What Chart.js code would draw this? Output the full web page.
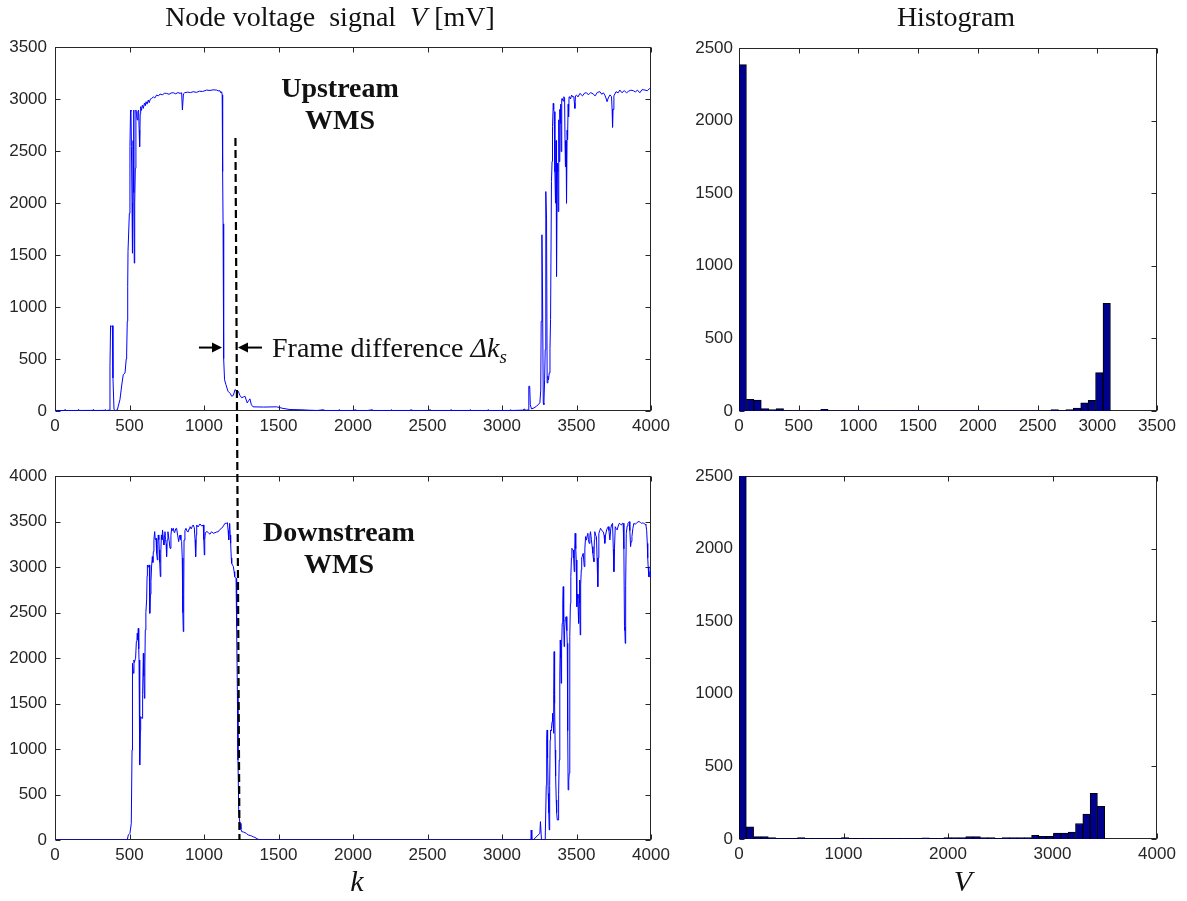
<!DOCTYPE html>
<html>
<head>
<meta charset="utf-8">
<script src="https://cdn.jsdelivr.net/npm/chart.js@4.4.1/dist/chart.umd.min.js"></script>
<style>
  body { margin: 0; background: #fff; overflow: hidden; }
  #page { position: relative; width: 1187px; height: 901px; }
  canvas { position: absolute; }
  .txt { position: absolute; font-family: 'Liberation Serif', 'Times New Roman', serif; font-size: 28px; color: #111; white-space: pre; }
  .bold { font-weight: bold; text-align: center; line-height: 32px; }
  sub { font-size: 19px; vertical-align: -6px; line-height: 0; }
</style>
</head>
<body>
<div id="page">
  <canvas id="upLine" width="670" height="420" style="left:0;top:30px"></canvas>
  <canvas id="downLine" width="670" height="446" style="left:0;top:455px"></canvas>
  <canvas id="upHist" width="507" height="420" style="left:680px;top:30px"></canvas>
  <canvas id="downHist" width="507" height="446" style="left:680px;top:455px"></canvas>
  <canvas id="overlay" width="1187" height="901" style="left:0;top:0"></canvas>

  <div class="txt" style="left:130px;top:3px;width:400px;text-align:center;line-height:28px">Node voltage  signal  <i>V</i> [mV]</div>
  <div class="txt" style="left:756px;top:3px;width:400px;text-align:center;line-height:28px">Histogram</div>
  <div class="txt bold" style="left:240px;top:72px;width:200px">Upstream<br>WMS</div>
  <div class="txt bold" style="left:239px;top:516px;width:200px">Downstream<br>WMS</div>
  <div class="txt" style="left:272px;top:334px;line-height:28px">Frame difference <i>Δk<sub>s</sub></i></div>
  <div class="txt" style="left:307px;top:866px;width:100px;text-align:center;font-size:30px;line-height:30px"><i>k</i></div>
  <div class="txt" style="left:913px;top:866px;width:100px;text-align:center;font-size:30px;line-height:30px"><i>V</i></div>
</div>
<script>
// upstream WMS node voltage signal (frame k, mV)
const upK = [0,60,70,75,150,160,165,250,260,265,330,340,345,365,
  369,373,380,385,389,396,405,418,436,448,458,470,478,481,485,488,490,496,499,503,507,510,513,517,519,521,524,528,530,532,535,539,543,547,552,556,561,565,568,572,575,580,586,593,600,606,611,618,626,632,640,649,660,670,682,695,705,720,735,749,765,780,794,810,825,839,850,855,859,862,870,890,910,928,950,970,990,1018,1040,1060,1085,1095,1107,1112,1118,1122,
  1125,1128,1130,1134,1138,1147,1161,1175,1186,1197,1208,1218,1230,1241,1253,1264,1275,1290,1300,1308,1318,1329,1400,1488,1530,1577,1650,1700,1760,1800,1805,1900,1910,1915,2000,2020,2025,2100,2130,2135,2250,2260,2265,2380,2390,2395,2500,2520,2525,2650,2660,2665,2780,2790,2795,2900,2910,2915,3050,3060,3065,3140,3150,3155,3176,
  3180,3186,3190,3198,3215,3232,3254,3260,3263,3268,3272,3277,3281,3286,3290,3294,3299,3303,3308,3312,3317,3322,3326,3332,3336,3339,3344,3347,3350,3355,3359,3363,3366,3371,3374,3377,3381,3384,3388,3391,3394,3397,3401,3404,3410,3415,3420,3423,3426,3430,3433,3437,3440,3444,3447,3450,3453,3460,3467,3475,3482,3486,3489,3493,3500,3510,
  3523,3540,3555,3567,3580,3595,3612,3625,3640,3657,3670,3680,3690,3700,3705,3713,3725,3735,3739,3742,3745,3751,3765,3780,3791,3805,3820,3836,3850,3865,3881,3895,3910,3925,3940,3959,3975,3992,4000];
const upV = [5,5,14,5,5,14,5,6,14,5,6,12,5,8,
  430,820,814,820,318,14,5,10,110,250,350,366,500,558,862,1200,1534,1534,1900,2542,2894,2880,2542,2000,1518,1518,2600,2894,2100,1422,2000,2334,2894,2850,2798,2880,2894,2700,2542,2860,2926,2890,2940,2910,2960,2935,2974,2950,2990,2965,3000,3006,3020,3010,3038,3030,3048,3040,3055,3054,3045,3058,3060,3050,3062,3054,3060,2894,2894,3050,3060,3066,3062,3070,3064,3075,3072,3086,3082,3088,3086,3078,3080,3060,3070,3040,
  2302,1800,1518,504,300,254,190,170,142,150,206,195,190,150,127,135,142,78,100,117,60,40,38,40,25,14,12,8,5,12,5,5,12,5,5,12,5,5,12,5,5,12,5,5,12,5,5,12,5,5,12,5,5,12,5,5,12,5,5,12,5,8,20,8,10,
  238,238,60,20,30,46,78,200,862,1694,1134,78,62,300,590,2110,1838,270,334,300,366,600,878,2206,2400,2734,2958,2900,2878,2300,1998,2600,1294,2382,2300,1918,2800,2398,2900,2766,2950,2494,3000,3006,2980,3022,3010,2600,2350,2600,1998,2700,2606,2950,2830,3020,3022,3000,3038,3020,3022,2960,2910,3030,3038,3020,
  3054,3030,3058,3060,3040,3062,3048,3030,3064,3070,3045,3060,3038,3000,2974,3010,3040,3022,2900,2728,2900,3030,3070,3060,3086,3060,3080,3060,3075,3085,3080,3068,3085,3060,3090,3086,3080,3102,3090];

// downstream WMS node voltage signal (frame k, mV)
const downK = [0,485,492,503,512,517,519,521,526,530,532,541,546,550,552,556,559,562,564,567,570,573,575,580,584,588,593,596,600,603,606,610,615,618,620,626,630,633,635,637,640,644,648,653,657,660,664,669,673,678,682,687,690,693,697,700,703,707,710,714,718,722,727,731,735,738,742,746,749,753,758,765,772,778,783,790,794,800,805,810,816,823,830,835,839,845,850,854,857,859,861,864,866,872,879,887,895,900,906,915,922,928,935,940,944,948,951,960,973,985,995,999,1002,1005,1009,1020,1029,1040,1051,1062,1074,1085,1096,1105,1118,1130,1141,1150,1157,1162,1166,1169,1172,1176,1179,1183,1186,1192,1197,1202,1206,1211,1215,
  1219,1224,1228,1233,1238,1242,1248,1253,1264,1275,1286,1297,1310,1320,1330,1342,1355,1365,1387,3187,3194,3196,3199,3201,3209,3254,3258,3261,3265,3290,3294,3297,3299,3301,3303,3306,3310,3314,3317,3320,3323,3326,3330,3332,3336,3339,3343,3346,3348,3350,3353,3357,3360,3364,3367,3371,3377,3380,3384,3388,3391,3394,3397,3400,3404,3408,3411,3414,3417,3420,3424,3428,3431,3435,3438,3441,3444,3448,3451,3454,3456,3459,3462,3466,3469,3474,3478,3481,3485,3488,3491,3495,3498,3501,3503,3506,3509,3512,3514,3517,3520,3523,3525,3528,3532,3535,3538,3545,3552,3556,3561,3564,3567,3572,3576,3580,3585,3590,3594,3600,3605,3610,3613,3617,3620,3623,3628,3634,3638,3643,3646,3650,3656,3661,3670,3679,3685,3690,3695,3702,3708,3713,3718,3724,3730,3735,3742,3747,3751,3755,3760,3767,3773,3780,3787,3795,3802,3808,3813,3818,3822,3825,3827,3830,3834,3840,3845,3850,3854,3858,3863,3867,3872,3878,3885,3893,3903,3912,3921,3929,3937,3945,3952,3960,3966,3971,3975,3978,3981,3985,3988,3992,3995,4000];
const downV = [0,0,55,73,183,989,1942,1942,1832,1978,1950,1997,2180,2200,2271,2200,2326,2100,1978,1400,824,1200,1356,1340,1337,1600,2051,1800,1557,1900,2308,2500,2638,2900,3022,3000,3022,3022,2700,2491,2700,2839,3000,3114,3050,3169,3300,3389,3300,3315,3150,3077,3250,3352,3300,3187,3050,2894,3150,3352,3300,3407,3300,3242,3350,3388,3300,3250,3114,3300,3388,3300,3205,3350,3425,3400,3425,3380,3388,3420,3425,3350,3279,3330,3352,3300,3279,3100,2821,2500,2290,2700,3297,3400,3425,3390,3388,3420,3443,3420,3450,3462,3430,3300,3114,3350,3462,3440,3473,3450,3462,3300,3132,3300,3377,3390,3377,3360,3388,3370,3377,3385,3388,3410,3425,3450,3480,3480,3487,3400,3297,3420,3480,3350,3260,3100,3040,3020,3004,2950,2894,2880,2876,
  2344,1612,879,330,220,183,120,92,88,81,70,55,50,44,35,29,15,7,0,0,0,110,110,0,0,73,202,202,0,0,0,600,989,1100,1209,900,513,300,110,600,1100,1209,1200,1227,1300,1392,1280,1172,1600,2070,1500,989,700,440,300,220,220,500,879,1800,2198,2000,1722,2100,2381,2600,2784,2400,2125,2300,2418,2450,2454,2300,2161,1200,550,650,733,1500,2235,2600,2894,3100,3205,3190,3187,3100,2949,3200,3370,3200,3077,2800,2564,2700,2656,2500,2381,2700,2857,2600,2253,2800,2967,3100,3114,3150,3004,3200,3334,3300,3297,3350,3370,3300,3260,3350,3388,3300,3224,3150,3100,3059,3300,3388,3350,3334,3100,2784,3100,3370,3400,3425,3400,3388,3350,3260,3350,3407,3430,3443,3400,3297,3420,3462,3480,3200,2949,3200,3443,3420,3407,3450,3480,3470,3462,3480,3480,3200,2344,2300,2161,2800,3370,3450,3480,3490,3498,3400,3224,3280,3334,3420,3480,3470,3480,3498,3498,3490,3480,3485,3480,3470,3462,3400,3260,3100,3004,2894,2894,2949,2949,2880];

// histogram counts, 50 equal bins each
const upBinWidth = 62.2;
const upCounts = [2385,80,75,16,9,16,3,2,2,3,2,12,2,2,2,2,2,2,2,2,2,2,2,2,2,2,2,2,2,2,2,2,2,2,2,2,2,2,2,2,2,2,10,3,10,20,57,73,264,741];
const downBinWidth = 70;
const downCounts = [2510,83,16,16,10,4,4,4,10,4,4,4,4,4,10,4,4,4,4,4,4,4,4,4,4,8,4,4,10,10,10,16,16,10,10,4,10,10,10,10,25,18,18,40,40,48,107,172,314,225];

// tick labels
const kTicks = [0,500,1000,1500,2000,2500,3000,3500,4000];
const upVTicks = [0,500,1000,1500,2000,2500,3000,3500];
const downVTicks = [0,500,1000,1500,2000,2500,3000,3500,4000];
const upHistX = [0,500,1000,1500,2000,2500,3000,3500];
const downHistX = [0,1000,2000,3000,4000];
const countTicks = [0,500,1000,1500,2000,2500];

// annotation anchors (data units of the left plots)
const shiftTop = [1211, 2626];
const shiftBottom = [1238, 0];
const arrowV = 610;
const arrowLeft = [966, 1121];
const arrowRight = [1389, 1228];

Chart.defaults.font.family = "'Liberation Sans', Arial, sans-serif";
Chart.defaults.font.size = 17;
Chart.defaults.color = '#262626';

const boxTicks = {
  id: 'boxTicks',
  beforeDatasetsDraw(chart) {
    const {ctx, chartArea: a, scales: {x, y}} = chart;
    const L = Math.round(a.left) + 0.5, R = Math.round(a.right) - 0.5;
    const T = Math.round(a.top) + 0.5, B = Math.round(a.bottom) - 0.5;
    ctx.save();
    ctx.strokeStyle = '#262626';
    ctx.lineWidth = 1;
    ctx.strokeRect(L, T, R - L, B - T);
    ctx.beginPath();
    x.ticks.forEach(t => {
      const p = Math.round(x.getPixelForValue(t.value)) + 0.5;
      ctx.moveTo(p, B); ctx.lineTo(p, B - 5);
      ctx.moveTo(p, T); ctx.lineTo(p, T + 5);
    });
    y.ticks.forEach(t => {
      const p = Math.round(y.getPixelForValue(t.value)) + 0.5;
      ctx.moveTo(L, p); ctx.lineTo(L + 5, p);
      ctx.moveTo(R, p); ctx.lineTo(R - 5, p);
    });
    ctx.stroke();
    ctx.restore();
  }
};

function axis(min, max, ticks, size, horizontal, pad) {
  return {
    type: 'linear', min: min, max: max, offset: false,
    grid: {display: false, drawTicks: false},
    border: {display: false},
    ticks: {padding: pad, callback: v => String(v)},
    afterBuildTicks: s => { s.ticks = ticks.map(v => ({value: v})); },
    afterFit: s => {
      if (horizontal) s.height = size; else s.width = size;
      s.paddingLeft = 0; s.paddingRight = 0; s.paddingTop = 0; s.paddingBottom = 0;
    }
  };
}

function lineChart(id, ks, vs, yMax, yTicks, padding, xh) {
  return new Chart(document.getElementById(id), {
    type: 'line',
    data: {datasets: [{
      data: ks.map((k, i) => ({x: k, y: vs[i]})),
      borderColor: '#0000ff', borderWidth: 1, pointRadius: 0, tension: 0
    }]},
    options: {
      responsive: false, animation: false, events: [],
      layout: {padding: padding},
      plugins: {legend: {display: false}, tooltip: {enabled: false}},
      scales: {
        x: axis(0, 4000, kTicks, xh, true, 5),
        y: axis(0, yMax, yTicks, 55, false, 8)
      }
    },
    plugins: [boxTicks]
  });
}

function histChart(id, counts, binW, xMax, xTicks, padding, xh) {
  return new Chart(document.getElementById(id), {
    type: 'bar',
    data: {datasets: [{
      data: counts.map((c, i) => ({x: (i + 0.5) * binW, y: c})),
      backgroundColor: '#00008f', borderColor: '#000', borderWidth: 1,
      barPercentage: 1, categoryPercentage: 1
    }]},
    options: {
      responsive: false, animation: false, events: [],
      layout: {padding: padding},
      plugins: {legend: {display: false}, tooltip: {enabled: false}},
      scales: {
        x: axis(0, xMax, xTicks, xh, true, 5),
        y: axis(0, 2500, countTicks, 59, false, 6)
      }
    },
    plugins: [boxTicks]
  });
}

const upLine = lineChart('upLine', upK, upV, 3500, upVTicks, {top: 17, right: 19, left: 0, bottom: 0}, 39);
const downLine = lineChart('downLine', downK, downV, 4000, downVTicks, {top: 21, right: 19, left: 0, bottom: 0}, 61);
histChart('upHist', upCounts, upBinWidth, 3500, upHistX, {top: 18, right: 30, left: 0, bottom: 0}, 39);
histChart('downHist', downCounts, downBinWidth, 4000, downHistX, {top: 21, right: 30, left: 0, bottom: 0}, 62);

// dashed marker across both left plots, and the frame-difference arrows
const ov = document.getElementById('overlay').getContext('2d');
function pagePt(chart, k, v) {
  const c = chart.canvas;
  return [c.offsetLeft + chart.scales.x.getPixelForValue(k), c.offsetTop + chart.scales.y.getPixelForValue(v)];
}
const p1 = pagePt(upLine, shiftTop[0], shiftTop[1]);
const p2 = pagePt(downLine, shiftBottom[0], shiftBottom[1]);
ov.strokeStyle = '#000';
ov.lineWidth = 2.2;
ov.setLineDash([8, 4]);
ov.beginPath();
ov.moveTo(p1[0], p1[1]);
ov.lineTo(p2[0], p2[1]);
ov.stroke();
ov.setLineDash([]);

function arrow(from, to) {
  const a = pagePt(upLine, from, arrowV), b = pagePt(upLine, to, arrowV);
  const dir = Math.sign(b[0] - a[0]);
  ov.fillStyle = '#000';
  ov.strokeStyle = '#000';
  ov.lineWidth = 2;
  ov.beginPath();
  ov.moveTo(a[0], a[1]);
  ov.lineTo(b[0] - dir * 8, b[1]);
  ov.stroke();
  ov.beginPath();
  ov.moveTo(b[0], b[1]);
  ov.lineTo(b[0] - dir * 10, b[1] - 5);
  ov.lineTo(b[0] - dir * 10, b[1] + 5);
  ov.closePath();
  ov.fill();
}
arrow(arrowLeft[0], arrowLeft[1]);
arrow(arrowRight[0], arrowRight[1]);
</script>
</body>
</html>
